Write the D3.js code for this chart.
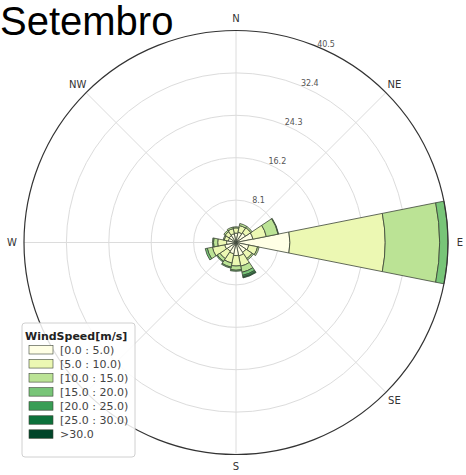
<!DOCTYPE html>
<html>
<head>
<meta charset="utf-8">
<script src="https://cdn.jsdelivr.net/npm/d3@7"></script>
<style>
  body { margin: 0; background: #fff; }
  text { font-family: "DejaVu Sans", sans-serif; }
</style>
</head>
<body>
<svg id="chart" width="466" height="475"></svg>
<script>
"use strict";

// compass sectors, clockwise from north
const directions = ["N", "NNE", "NE", "ENE", "E", "ESE", "SE", "SSE",
                    "S", "SSW", "SW", "WSW", "W", "WNW", "NW", "NNW"];

// wind speed bins (legend)
const speedBins = ["[0.0 : 5.0)", "[5.0 : 10.0)", "[10.0 : 15.0)", "[15.0 : 20.0)",
                   "[20.0 : 25.0)", "[25.0 : 30.0)", ">30.0"];

// frequency (%) per direction, one array per speed bin
const freq0to5   = [1.8, 2.0, 2.2, 3.3, 10.3, 2.5, 2.3, 2.6, 2.5, 2.2, 2.0, 2.2, 1.8, 1.5, 1.6, 1.7];
const freq5to10  = [1.0, 1.3, 1.2, 2.6, 18.2, 1.7, 1.4, 2.0, 2.0, 1.8, 1.7, 2.4, 1.7, 0.8, 0.9, 1.0];
const freq10to15 = [0.2, 0.4, 0.3, 2.3, 10.4, 0.3, 0.3, 1.2, 0.8, 0.8, 0.6, 1.0, 0.8, 0.2, 0.3, 0.3];
const freq15to20 = [0.0, 0.0, 0.0, 0.1, 1.6, 0.0, 0.0, 0.6, 0.2, 0.2, 0.2, 0.4, 0.2, 0.0, 0.0, 0.0];
const freq20to25 = [0, 0, 0, 0, 0, 0, 0, 0.3, 0, 0, 0, 0, 0, 0, 0, 0];
const freq25to30 = [0, 0, 0, 0, 0, 0, 0, 0.2, 0, 0, 0, 0, 0, 0, 0, 0];
const freqAbove30 = [0, 0, 0, 0, 0, 0, 0, 0, 0, 0, 0, 0, 0, 0, 0, 0];

// radial tick values and compass labels (SW sits under the legend, not shown)
const radialTicks = [8.1, 16.2, 24.3, 32.4, 40.5];
const compassLabels = ["N", "NE", "E", "SE", "S", "", "W", "NW"];

const title = "Setembro";

// ---- layout ----
const svg = d3.select("#chart");
const cx = 236, cy = 242.5, R = 212;
const rMax = 40.5;

const rScale = d3.scaleLinear().domain([0, rMax]).range([0, R]);
const color = d3.scaleOrdinal()
  .domain(speedBins)
  .range(speedBins.map((d, i) => d3.interpolateYlGn(i / (speedBins.length - 1))));

const series = [freq0to5, freq5to10, freq10to15, freq15to20, freq20to25, freq25to30, freqAbove30];
const table = directions.map((dir, i) => {
  const row = { dir: dir };
  speedBins.forEach((b, j) => { row[b] = series[j][i]; });
  return row;
});
const stacked = d3.stack().keys(speedBins)(table);

const sector = 2 * Math.PI / directions.length;
const angle = d3.scaleBand().domain(directions).range([-sector / 2, 2 * Math.PI - sector / 2]);

const g = svg.append("g").attr("transform", `translate(${cx},${cy})`);

// grid circles
g.append("g").selectAll("circle")
  .data(radialTicks.slice(0, -1))
  .join("circle")
  .attr("r", d => rScale(d))
  .attr("fill", "none")
  .attr("stroke", "#dcdcdc")
  .attr("stroke-width", 1);

// radial grid lines every 45 deg
g.append("g").selectAll("line")
  .data(d3.range(8))
  .join("line")
  .attr("x1", 0).attr("y1", 0)
  .attr("x2", i => R * Math.sin(i * Math.PI / 4))
  .attr("y2", i => -R * Math.cos(i * Math.PI / 4))
  .attr("stroke", "#dcdcdc")
  .attr("stroke-width", 1);

// bars
const arc = d3.arc()
  .innerRadius(d => rScale(d[0]))
  .outerRadius(d => rScale(d[1]))
  .startAngle(d => angle(d.data.dir))
  .endAngle(d => angle(d.data.dir) + angle.bandwidth());

g.append("g").selectAll("g")
  .data(stacked)
  .join("g")
  .attr("fill", d => color(d.key))
  .selectAll("path")
  .data(d => d.filter(s => s[1] - s[0] > 0))
  .join("path")
  .attr("d", arc)
  .attr("stroke", "#3b4436")
  .attr("stroke-width", 0.8);

// outer frame
g.append("circle")
  .attr("r", R)
  .attr("fill", "none")
  .attr("stroke", "#333")
  .attr("stroke-width", 1.2);

// radial tick labels (bearing 22.5 deg)
const labAng = Math.PI / 8;
g.append("g").selectAll("text")
  .data(radialTicks)
  .join("text")
  .attr("x", d => rScale(d) * Math.sin(labAng))
  .attr("y", d => -rScale(d) * Math.cos(labAng))
  .attr("font-size", 8)
  .attr("fill", "#555")
  .text(d => d.toFixed(1));

// compass labels
g.append("g").selectAll("text")
  .data(compassLabels.map((t, i) => ({ t: t, i: i })).filter(d => d.t))
  .join("text")
  .attr("x", d => 224 * Math.sin(d.i * Math.PI / 4))
  .attr("y", d => -224 * Math.cos(d.i * Math.PI / 4))
  .attr("text-anchor", "middle")
  .attr("dy", "0.35em")
  .attr("font-size", 10)
  .attr("fill", "#333")
  .text(d => d.t);

// title
svg.append("text")
  .attr("x", 0)
  .attr("y", 35)
  .style("font-family", "'Liberation Sans', Arial, sans-serif")
  .attr("font-size", 40)
  .attr("fill", "#000")
  .text(title);

// legend
const leg = svg.append("g").attr("transform", "translate(22,323)");
leg.append("rect")
  .attr("width", 113).attr("height", 134)
  .attr("rx", 3)
  .attr("fill", "#fff").attr("fill-opacity", 0.85)
  .attr("stroke", "#d0d0d0");
leg.append("text")
  .attr("x", 3).attr("y", 17)
  .attr("font-size", 11)
  .attr("font-weight", "bold")
  .attr("fill", "#222")
  .text("WindSpeed[m/s]");
const rows = leg.selectAll("g.row")
  .data(speedBins)
  .join("g")
  .attr("class", "row")
  .attr("transform", (d, i) => `translate(0,${27 + i * 14.05})`);
rows.append("rect")
  .attr("x", 7).attr("y", -4.5)
  .attr("width", 24).attr("height", 8.5)
  .attr("fill", d => color(d))
  .attr("stroke", "#3b4436").attr("stroke-width", 0.6);
rows.append("text")
  .attr("x", 38).attr("dy", "0.35em")
  .attr("font-size", 11)
  .attr("fill", "#444")
  .text(d => d);
</script>
</body>
</html>
